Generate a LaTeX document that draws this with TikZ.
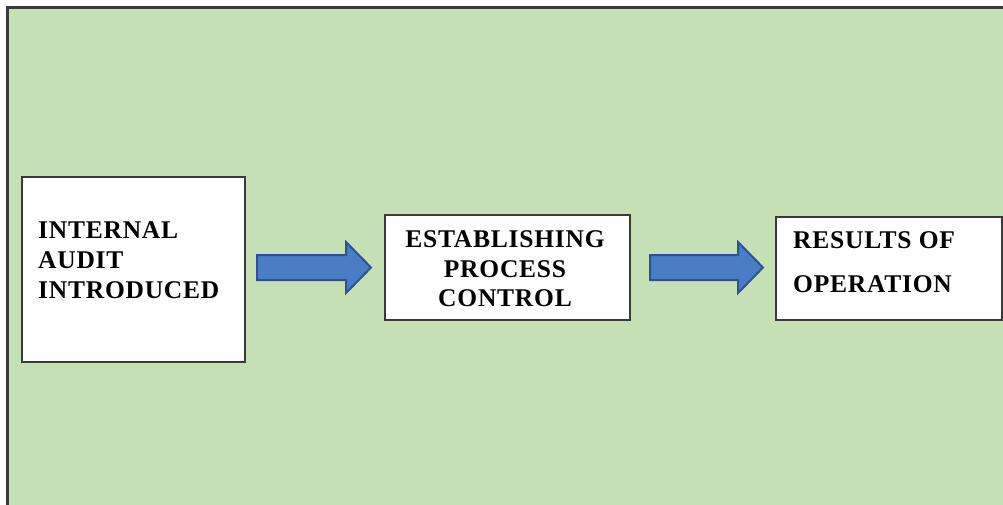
\documentclass[tikz,border=0pt]{standalone}
\usepackage{fontspec}
\setmainfont{Liberation Serif}
\newfontfamily\lblfont[LetterSpace=3]{Liberation Serif}
\definecolor{bggreen}{HTML}{C5E0B4}
\definecolor{arrblue}{HTML}{4A7EC4}
\definecolor{arredge}{HTML}{2F528F}
\definecolor{frame}{HTML}{3A3A3A}
\begin{document}
\begin{tikzpicture}[x=1pt,y=-1pt,
  boxstyle/.style={draw=frame,line width=1.3pt,fill=white},
  lbl/.style={font=\lblfont\bfseries\fontsize{25.5}{30}\selectfont,inner sep=0pt,anchor=base west},
  lblc/.style={font=\lblfont\bfseries\fontsize{25.5}{30}\selectfont,inner sep=0pt,anchor=base},
  blockarrow/.style={fill=arrblue,draw=arredge,line width=2pt,line join=miter}]
\useasboundingbox (0,0) rectangle (1003,504);
\fill[bggreen] (7.5,7.5) rectangle (1010,510);
\draw[frame,line width=2.2pt] (1010,7.5) -- (7.5,7.5) -- (7.5,510);
% boxes
\node[boxstyle,minimum width=223pt,minimum height=185pt,inner sep=0pt] (b1) at (133.5,269.5) {};
\node[boxstyle,minimum width=245pt,minimum height=105pt,inner sep=0pt] (b2) at (507.5,267.5) {};
\node[boxstyle,minimum width=226pt,minimum height=103pt,inner sep=0pt] (b3) at (889,268.5) {};
% texts
\node[lbl] (t1a) at (38,238) {INTERNAL};
\node[lbl] (t1b) at (38,268) {AUDIT};
\node[lbl] (t1c) at (38,298) {INTRODUCED};
\node[lblc] (t2a) at (505,247) {ESTABLISHING};
\node[lblc] (t2b) at (505,277) {PROCESS};
\node[lblc] (t2c) at (505,306) {CONTROL};
\node[lbl] (t3a) at (793,248) {RESULTS OF};
\node[lbl] (t3b) at (793,292) {OPERATION};
% block arrows
\coordinate (a1s) at (257,267.5);
\coordinate (a1t) at (371,267.5);
\coordinate (a2s) at (650,267.5);
\coordinate (a2t) at (763,267.5);
\draw[blockarrow] ([yshift=-12.5pt]a1s) -- ([xshift=-25pt,yshift=-12.5pt]a1t) -- ([xshift=-25pt,yshift=-25.5pt]a1t) -- (a1t) -- ([xshift=-25pt,yshift=25.5pt]a1t) -- ([xshift=-25pt,yshift=12.5pt]a1t) -- ([yshift=12.5pt]a1s) -- cycle;
\draw[blockarrow] ([yshift=-12.5pt]a2s) -- ([xshift=-25pt,yshift=-12.5pt]a2t) -- ([xshift=-25pt,yshift=-25.5pt]a2t) -- (a2t) -- ([xshift=-25pt,yshift=25.5pt]a2t) -- ([xshift=-25pt,yshift=12.5pt]a2t) -- ([yshift=12.5pt]a2s) -- cycle;
\end{tikzpicture}
\end{document}
